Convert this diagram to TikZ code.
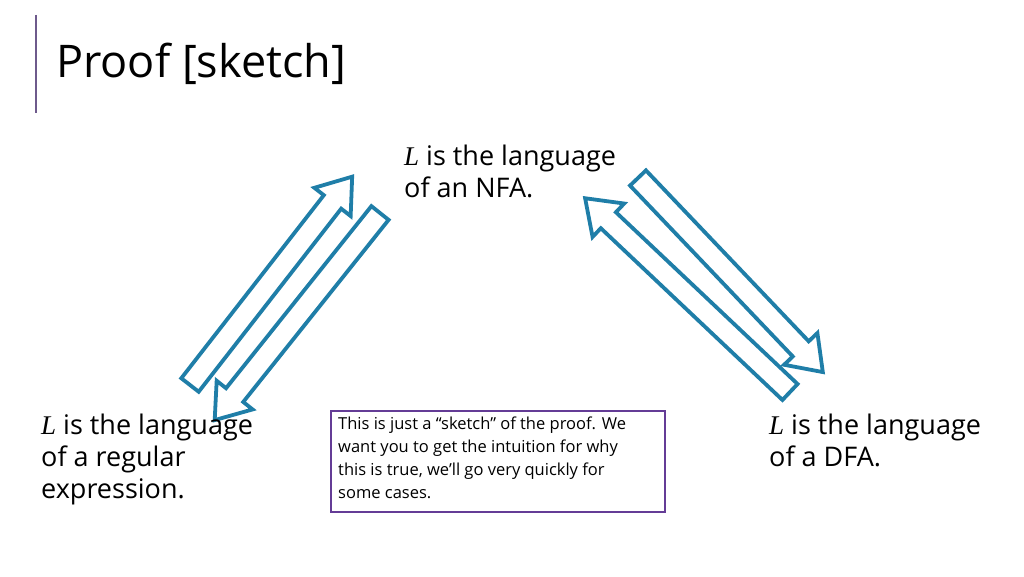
\documentclass[tikz,border=0pt]{standalone}
\usepackage{fontspec}
\setmainfont{Open Sans}
\newfontfamily\serifL{Liberation Serif}
\begin{document}
\begin{tikzpicture}[x=1pt,y=1pt,
  lbl/.style={anchor=north west,align=left,font=\fontsize{27}{32}\selectfont,inner sep=0pt}]
\definecolor{arrc}{HTML}{1F7EA8}
\tikzset{blk/.style={draw=arrc,line width=3.8pt,fill=white}}
\useasboundingbox (0,0) rectangle (1024,576);
\fill[white] (0,0) rectangle (1024,576);
\draw[color={rgb,255:red,110;green,90;blue,140},line width=1.5pt] (36,561) -- (36,463);
\node[anchor=base west,inner sep=0pt,font=\fontsize{45}{52}\selectfont] (title) at (56,498) {Proof [sketch]};
\newcommand{\blockarrow}[3]{%
 \begin{scope}[shift={(#1)},rotate=#2]
  \draw[blk] (0,-11) -- (#3-32,-11) -- (#3-32,-23) -- (#3,0) -- (#3-32,23) -- (#3-32,11) -- (0,11) -- cycle;
 \end{scope}}
\blockarrow{190,191}{52.1}{264}
\blockarrow{380,363}{-128.6}{265}
\blockarrow{638,398}{-46.4}{268}
\blockarrow{790,184}{136.6}{282}
\node[lbl] (nfa) at (404,431) {{\serifL\itshape L} is the language\\of an NFA.};
\node[lbl] (re) at (41,162) {{\serifL\itshape L} is the language\\of a regular\\expression.};
\node[lbl] (dfa) at (769,162) {{\serifL\itshape L} is the language\\of a DFA.};
\node[draw={rgb,255:red,100;green,60;blue,150},line width=1.5pt,anchor=north west,minimum width=334pt,minimum height=101pt,inner sep=0pt] (box) at (330,166) {};
\node[anchor=north west,align=left,inner sep=0pt,font=\fontsize{16.5}{23}\selectfont] (boxt) at (338,159) {This is just a “sketch” of the proof. We\\want you to get the intuition for why\\this is true, we’ll go very quickly for\\some cases.};
\end{tikzpicture}
\end{document}
